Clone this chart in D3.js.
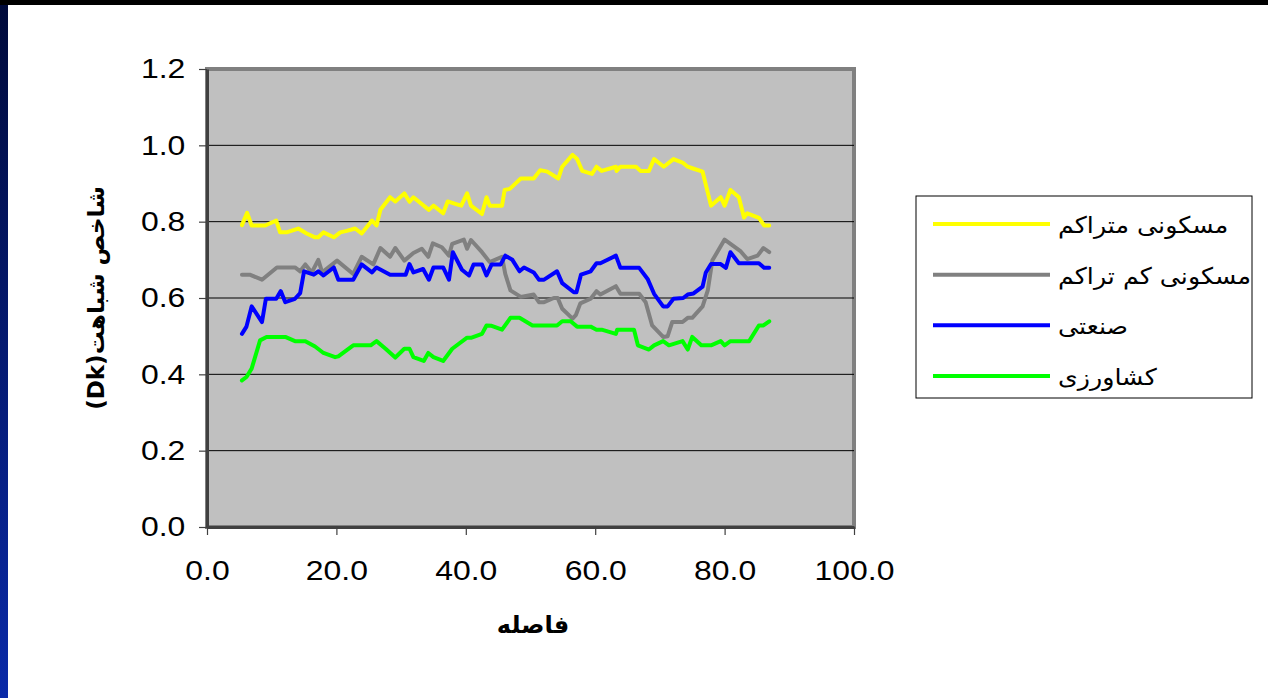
<!DOCTYPE html>
<html>
<head>
<meta charset="utf-8">
<script src="https://cdn.jsdelivr.net/npm/d3@7"></script>
<style>
  html, body { margin: 0; padding: 0; background: #ffffff; }
  svg { display: block; }
</style>
</head>
<body>
<svg id="chart" width="1268" height="698"></svg>
<script>
// ---- DATA ----
const seriesNames = ["مسکونی متراکم", "مسکونی کم تراکم", "صنعتی", "کشاورزی"];
const seriesColors = ["#FFFF00", "#808080", "#0000FF", "#00FF00"];
const xTicks = [0, 20, 40, 60, 80, 100];
const yTicks = [0, 0.2, 0.4, 0.6, 0.8, 1.0, 1.2];
const xTitle = "فاصله";
const yTitleWords = "شاخص شباهت";
const yTitleUnit = "(Dk)";

const denseDist = [5.4,6.2,6.9,9,10.7,11.3,12.3,14.1,15.4,16.7,17.2,18,19.6,20.6,21.6,22.9,23.9,25.5,26.2,26.8,28.3,29.1,30.5,31.3,31.9,34.3,35,36.5,37.2,38.5,39.3,40.2,40.8,42.5,43.2,43.7,45.6,46,46.8,48.5,50.5,51.5,52.6,54.3,54.9,56.5,57.2,58,59.5,60.2,61,63.2,63.3,63.9,66.3,67,68.3,69.1,70.6,72.1,73.5,74.3,75,76.6,77.9,79.4,80,80.9,82.2,83,83.5,85.3,86.1,86.9];
const denseVal  = [0.791,0.823,0.79,0.79,0.803,0.772,0.772,0.782,0.769,0.759,0.759,0.772,0.759,0.772,0.776,0.782,0.769,0.803,0.79,0.831,0.864,0.853,0.874,0.852,0.864,0.831,0.842,0.822,0.853,0.846,0.842,0.874,0.842,0.82,0.864,0.842,0.842,0.883,0.886,0.913,0.913,0.935,0.931,0.913,0.944,0.975,0.964,0.933,0.925,0.944,0.933,0.944,0.933,0.944,0.944,0.933,0.933,0.964,0.944,0.964,0.955,0.944,0.94,0.931,0.842,0.864,0.842,0.883,0.864,0.811,0.822,0.81,0.79,0.79];

const lowDist = [5.4,6.6,8.5,10.8,13.6,14.4,15.2,16.2,17.2,17.8,20.1,22.6,23.9,25.7,26.8,28.3,29.1,30.5,31.9,33.2,34.2,34.9,36.3,37.4,37.9,39.7,40.2,40.8,42.5,43.7,45.6,46.1,46.9,48.5,50.5,51.3,52.1,53.6,54.2,54.9,56.5,57,57.7,59.3,60.2,60.8,63.2,63.9,66.8,67.8,68.8,70.5,71.2,71.9,73.5,74.3,75,76.6,77.4,78.1,80,82.5,83.5,85.1,86,86.9];
const lowVal  = [0.661,0.661,0.648,0.68,0.68,0.67,0.688,0.667,0.70,0.667,0.698,0.663,0.708,0.688,0.731,0.708,0.731,0.698,0.718,0.729,0.708,0.743,0.733,0.711,0.742,0.753,0.729,0.752,0.72,0.694,0.708,0.663,0.62,0.603,0.609,0.589,0.589,0.60,0.60,0.572,0.546,0.555,0.586,0.598,0.618,0.609,0.631,0.611,0.611,0.589,0.528,0.498,0.50,0.537,0.537,0.548,0.548,0.578,0.62,0.698,0.753,0.722,0.702,0.711,0.731,0.72];

const indDist = [5.4,6.1,6.9,8.5,9.1,10.7,11.4,12.1,13.6,14.4,15,16.5,17.2,18,19.6,20.3,22.6,23.9,25.5,26.2,28.3,30.7,31.3,31.9,33.4,34.3,35,36.5,37.4,38,39.4,40.5,41.2,42.5,43.2,44,45.4,46.1,47.2,48.3,49,50.5,51.3,52.1,54.1,54.9,56.7,57.1,57.8,59.3,60.2,60.8,63.2,63.9,66.8,68.1,69.1,70.5,71.2,72.1,73.6,74.3,75.2,76.6,77.1,77.9,79.4,80.2,80.9,82.2,85.3,86.1,86.9];
const indVal  = [0.506,0.525,0.578,0.537,0.598,0.598,0.618,0.589,0.598,0.613,0.67,0.661,0.67,0.659,0.68,0.648,0.648,0.688,0.667,0.68,0.661,0.661,0.689,0.667,0.676,0.648,0.68,0.68,0.648,0.72,0.674,0.659,0.688,0.688,0.659,0.688,0.688,0.711,0.70,0.67,0.68,0.667,0.648,0.648,0.67,0.639,0.615,0.615,0.661,0.67,0.691,0.691,0.711,0.679,0.679,0.65,0.611,0.578,0.578,0.598,0.60,0.609,0.612,0.63,0.667,0.689,0.689,0.679,0.72,0.691,0.691,0.679,0.679];

const agrDist = [5.4,6.1,6.9,8.2,9.2,12.1,13.6,15.2,16.7,18,19.8,20.3,22.6,25.3,26.2,27.6,29.1,30.5,31.3,31.9,33.5,34.2,35,36.5,37.9,40.2,40.9,42.5,43.2,44,45.6,46.9,48.3,50.3,54.1,54.9,56.2,57.2,59.3,60.2,61,63.2,63.4,66,66.6,68.3,69.1,70.5,71.4,73.5,74.3,75,76.4,77.9,79.4,80,80.9,83.8,85.3,86,86.9];
const agrVal  = [0.384,0.393,0.415,0.489,0.498,0.498,0.487,0.487,0.473,0.456,0.445,0.447,0.476,0.476,0.487,0.467,0.444,0.467,0.467,0.445,0.435,0.456,0.445,0.435,0.467,0.496,0.496,0.506,0.528,0.527,0.517,0.548,0.548,0.528,0.528,0.539,0.539,0.525,0.525,0.517,0.517,0.506,0.517,0.517,0.476,0.465,0.476,0.487,0.476,0.487,0.465,0.498,0.476,0.476,0.487,0.476,0.487,0.487,0.528,0.528,0.539];

const seriesDist = [denseDist, lowDist, indDist, agrDist];
const seriesVal = [denseVal, lowVal, indVal, agrVal];

// ---- LAYOUT ----
const svg = d3.select("#chart");
const W = 1268, H = 698;
const plot = { left: 207, right: 854, top: 69, bottom: 527 };
const numFont = "'Liberation Sans', Arial, sans-serif";
const arFont = "'DejaVu Sans', sans-serif";
const stretch = 1.14;
const legStretch = 1.1;

// slide frame
const defs = svg.append("defs");
const grad = defs.append("linearGradient").attr("id", "leftGrad")
  .attr("x1", 0).attr("y1", 0).attr("x2", 0).attr("y2", 1);
grad.append("stop").attr("offset", "0%").attr("stop-color", "#000a3a");
grad.append("stop").attr("offset", "100%").attr("stop-color", "#0a2aa8");
svg.append("rect").attr("x", 0).attr("y", 0).attr("width", W).attr("height", H).attr("fill", "#ffffff");
svg.append("rect").attr("x", 0).attr("y", 0).attr("width", 8).attr("height", H).attr("fill", "url(#leftGrad)");
svg.append("rect").attr("x", 0).attr("y", 0).attr("width", W).attr("height", 5).attr("fill", "#000000");

const x = d3.scaleLinear().domain([0, 100]).range([plot.left, plot.right]);
const y = d3.scaleLinear().domain([0, 1.2]).range([plot.bottom, plot.top]);

// plot background
svg.append("rect")
  .attr("x", x(0)).attr("y", y(1.2))
  .attr("width", x(100) - x(0)).attr("height", y(0) - y(1.2))
  .attr("fill", "#C0C0C0")
  .attr("stroke", "#808080").attr("stroke-width", 4);

// gridlines
svg.append("g").selectAll("line")
  .data(yTicks.filter(d => d > 0 && d < 1.2))
  .join("line")
  .attr("x1", x(0)).attr("x2", x(100))
  .attr("y1", d => y(d)).attr("y2", d => y(d))
  .attr("stroke", "#000000").attr("stroke-width", 1);

// series lines
const line = d3.line().x(d => x(d[0])).y(d => y(d[1]));
seriesNames.forEach((name, i) => {
  const pts = seriesDist[i].map((dd, j) => [dd, seriesVal[i][j]]);
  svg.append("path")
    .datum(pts)
    .attr("d", line)
    .attr("fill", "none")
    .attr("stroke", seriesColors[i])
    .attr("stroke-width", 4)
    .attr("stroke-linejoin", "round")
    .attr("stroke-linecap", "round");
});

// axes
const yAxis = d3.axisLeft(y).tickValues(yTicks).tickFormat(d3.format(".1f"))
  .tickSize(8).tickSizeOuter(0).tickPadding(11);
const gy = svg.append("g").attr("transform", `translate(${x(0)},0)`).call(yAxis);
gy.select(".domain").attr("stroke", "#404040").attr("stroke-width", 3);
gy.selectAll(".tick line").attr("stroke", "#404040").attr("stroke-width", 1.2);
gy.selectAll(".tick text")
  .attr("font-family", numFont).attr("font-size", 28).attr("fill", "#000")
  .attr("transform", `scale(${stretch},1)`);

const xAxis = d3.axisBottom(x).tickValues(xTicks).tickFormat(d3.format(".1f"))
  .tickSize(8).tickSizeOuter(0).tickPadding(25);
const gx = svg.append("g").attr("transform", `translate(0,${y(0)})`).call(xAxis);
gx.select(".domain").attr("stroke", "#404040").attr("stroke-width", 3);
gx.selectAll(".tick line").attr("stroke", "#404040").attr("stroke-width", 1.2);
gx.selectAll(".tick text")
  .attr("font-family", numFont).attr("font-size", 28).attr("fill", "#000")
  .attr("transform", `scale(${stretch},1)`);

// axis titles
svg.append("text")
  .attr("x", 533).attr("y", 633)
  .attr("text-anchor", "middle")
  .attr("font-family", arFont).attr("font-weight", "bold").attr("font-size", 24)
  .text(xTitle);

// y title: unit first (reads bottom), Arabic words above; LTR base keeps "(Dk)" intact
svg.append("text")
  .attr("transform", "translate(104,298) rotate(-90)")
  .attr("text-anchor", "middle")
  .attr("direction", "ltr")
  .attr("font-family", arFont).attr("font-weight", "bold").attr("font-size", 23)
  .text(yTitleUnit + yTitleWords);

// legend
const lg = svg.append("g");
lg.append("rect").attr("x", 916).attr("y", 196).attr("width", 336).attr("height", 202)
  .attr("fill", "#ffffff").attr("stroke", "#000000").attr("stroke-width", 1);
const legY = d3.scalePoint().domain(seriesNames).range([224, 376]);
seriesNames.forEach((name, i) => {
  lg.append("line")
    .attr("x1", 933).attr("x2", 1050)
    .attr("y1", legY(name)).attr("y2", legY(name))
    .attr("stroke", seriesColors[i]).attr("stroke-width", 4);
  lg.append("text")
    .attr("transform", `translate(1058,${legY(name) + 9}) scale(${legStretch},1)`)
    .attr("text-anchor", "start")
    .attr("font-family", arFont).attr("font-size", 23).attr("fill", "#000")
    .text(name);
});
</script>
</body>
</html>
